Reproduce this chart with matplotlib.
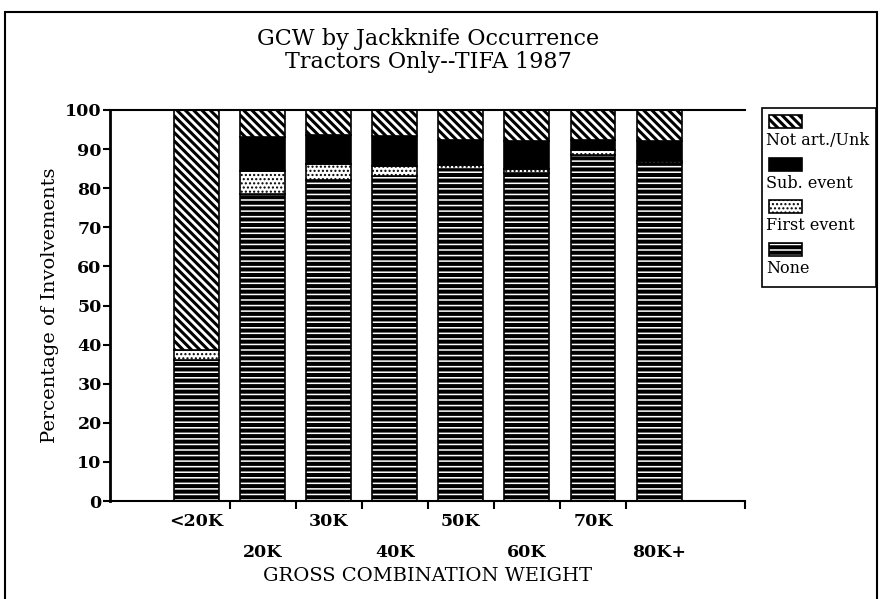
import numpy as np
import matplotlib.pyplot as plt
from matplotlib.patches import Rectangle

# --- data (percent of involvements) ---
categories = ["<20K", "20K", "30K", "40K", "50K", "60K", "70K", "80K+"]
none_pct = [36.0, 78.5, 82.0, 83.0, 84.8, 84.0, 88.5, 86.5]
first_pct = [2.6, 6.0, 4.2, 2.8, 1.2, 1.0, 1.2, 0.5]
sub_pct = [0.0, 8.7, 7.3, 7.5, 6.2, 7.0, 2.5, 5.0]
notart_pct = [61.4, 6.8, 6.5, 6.7, 7.8, 8.0, 7.8, 8.0]
series_names = ["Not art./Unk", "Sub. event", "First event", "None"]

plt.rcParams["font.family"] = ["DejaVu Serif"]

fig = plt.figure(figsize=(8.8, 5.99), dpi=100)
ax = fig.add_axes([110 / 880, 98 / 599, 635 / 880, 391 / 599])

x = np.arange(len(categories))
width = 0.68

# style for each segment: (facecolor, hatch, hatch linewidth)
styles = {
    "None": ("white", "---", 2.9),
    "First event": ("white", "....", 1.0),
    "Sub. event": ("black", None, 1.0),
    "Not art./Unk": ("white", "\\\\\\\\", 2.2),
}

stack = [("None", none_pct), ("First event", first_pct),
         ("Sub. event", sub_pct), ("Not art./Unk", notart_pct)]
bottom = np.zeros(len(categories))
for name, vals in stack:
    fc, hatch, hlw = styles[name]
    with plt.rc_context({"hatch.linewidth": hlw, "hatch.color": "black"}):
        ax.bar(x, vals, width, bottom=bottom, color=fc, edgecolor="black",
               linewidth=1.2, hatch=hatch)
    bottom += np.array(vals)

ax.set_xlim(-1.31, 8.30)
ax.set_ylim(0, 100)
ax.set_yticks(np.arange(0, 101, 10))
ax.tick_params(axis="y", direction="out", length=5, width=1.5, labelsize=12.5,
               pad=1)
for lbl in ax.get_yticklabels():
    lbl.set_fontweight("bold")

# category labels staggered on two rows, tick marks between categories
ax.set_xticks(x)
ax.set_xticklabels([c if i % 2 == 0 else "\n" + c for i, c in enumerate(categories)],
                   fontsize=12.5, fontweight="bold", linespacing=2.05)
ax.tick_params(axis="x", which="major", length=0, pad=9)
ax.set_xticks(list(x[:-1] + 0.5) + [8.30], minor=True)
ax.tick_params(axis="x", which="minor", direction="out", length=6, width=1.5)

ax.spines["right"].set_visible(False)
ax.spines["left"].set_linewidth(2)
ax.spines["bottom"].set_linewidth(1.5)
ax.spines["top"].set_linewidth(1.5)

ax.set_ylabel("Percentage of Involvements", fontsize=14, labelpad=4)
ax.set_xlabel("GROSS COMBINATION WEIGHT", fontsize=14, labelpad=4)

fig.text(428 / 880, 1 - 39 / 599, "GCW by Jackknife Occurrence", ha="center",
         va="center", fontsize=16)
fig.text(428 / 880, 1 - 62 / 599, "Tractors Only--TIFA 1987", ha="center",
         va="center", fontsize=16)

# outer frame
fig.patches.append(Rectangle((5 / 880, -0.02), 872 / 880, 1 - 12 / 599 + 0.02,
                             transform=fig.transFigure, fill=False,
                             edgecolor="black", linewidth=1.5))

# legend: swatch above each label
lx0, ly0, lx1, ly1 = 762, 108, 876, 287
fig.patches.append(Rectangle((lx0 / 880, 1 - ly1 / 599), (lx1 - lx0) / 880,
                             (ly1 - ly0) / 599, transform=fig.transFigure,
                             fill=False, edgecolor="black", linewidth=1.2))
for k, name in enumerate(series_names):
    fc, hatch, hlw = styles[name]
    top = 115 + k * 42.5
    with plt.rc_context({"hatch.linewidth": hlw, "hatch.color": "black"}):
        fig.patches.append(Rectangle((769 / 880, 1 - (top + 13) / 599), 33 / 880,
                                     13 / 599, transform=fig.transFigure,
                                     facecolor=fc, edgecolor="black",
                                     linewidth=1.2, hatch=hatch))
    fig.text(766 / 880, 1 - (top + 26) / 599, name, ha="left", va="center",
             fontsize=11.5)

fig.savefig("out.png", dpi=100)
